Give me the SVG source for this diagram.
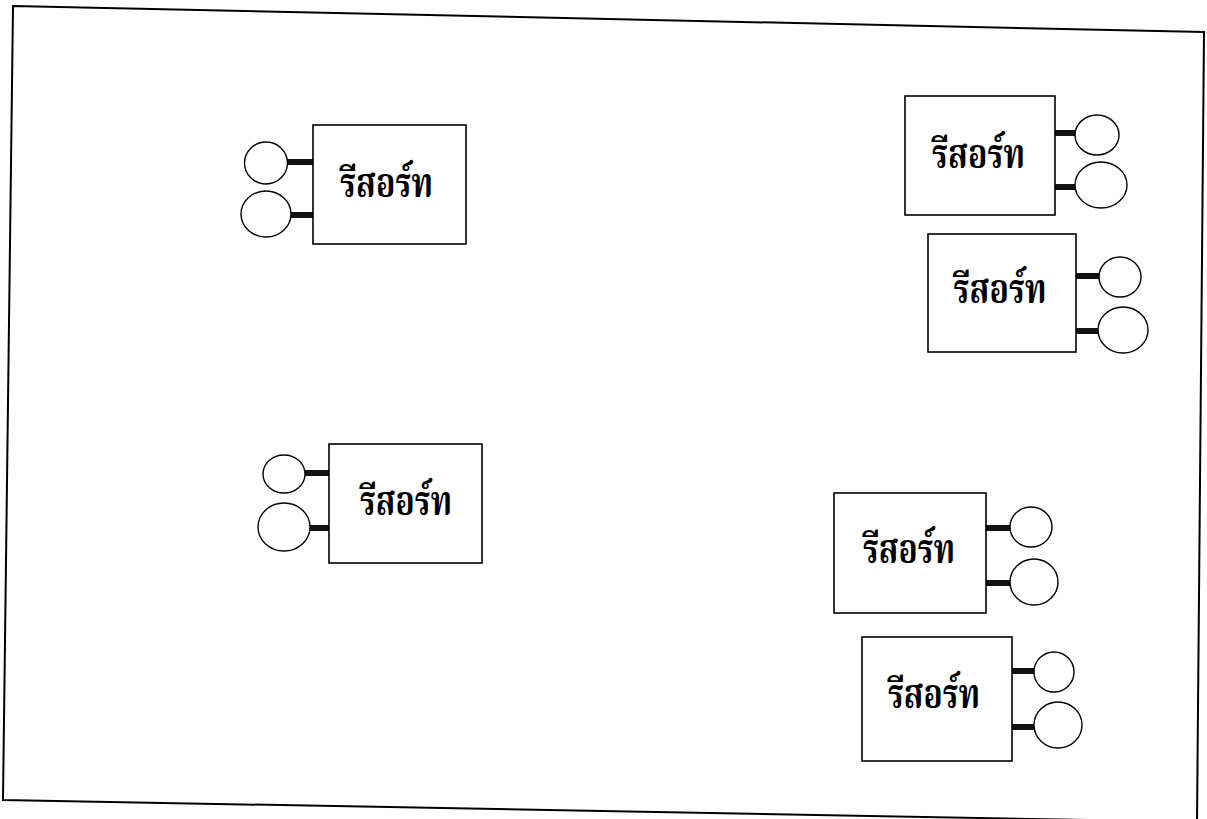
<svg xmlns="http://www.w3.org/2000/svg" width="1207" height="819" viewBox="0 0 1207 819">
<style>
.box{fill:#fff;stroke:#000;stroke-width:1.6}
.port{fill:#fff;stroke:#000;stroke-width:1.4}
.link{stroke:#111;stroke-width:6;fill:none}
.lbl{font-family:"Noto Serif Thai","Noto Sans Thai","Garuda","Loma","Tlwg Typo","DejaVu Sans","Noto Sans",sans-serif;font-size:40px;font-weight:bold;fill:#000;text-anchor:middle}
</style>
<rect width="1207" height="819" fill="#fff"/>
<polygon id="frame" points="13,6 1204,32 1197,822 3,800" fill="none" stroke="#000" stroke-width="2"/>
<g id="connectors">
<line class="link" x1="287" y1="162" x2="313" y2="162"/>
<line class="link" x1="290" y1="215" x2="313" y2="215"/>
<line class="link" x1="1055" y1="133" x2="1076" y2="133"/>
<line class="link" x1="1055" y1="187" x2="1076" y2="187"/>
<line class="link" x1="1076" y1="276" x2="1099" y2="276"/>
<line class="link" x1="1076" y1="331" x2="1098" y2="331"/>
<line class="link" x1="305" y1="473" x2="329" y2="473"/>
<line class="link" x1="309" y1="528" x2="329" y2="528"/>
<line class="link" x1="986" y1="528" x2="1011" y2="528"/>
<line class="link" x1="986" y1="583" x2="1010" y2="583"/>
<line class="link" x1="1012" y1="671" x2="1034" y2="671"/>
<line class="link" x1="1012" y1="727" x2="1034" y2="727"/>
</g>
<g id="resort1">
<rect class="box" x="313" y="125" width="153" height="119"/>
<ellipse class="port" cx="266" cy="163" rx="21.5" ry="21"/>
<ellipse class="port" cx="266" cy="214" rx="25" ry="23"/>
<text class="lbl" x="386.5" y="197" textLength="93" lengthAdjust="spacingAndGlyphs">รีสอร์ท</text>
</g>
<g id="resort2">
<rect class="box" x="905" y="96" width="150" height="119"/>
<ellipse class="port" cx="1097" cy="135" rx="22" ry="20"/>
<ellipse class="port" cx="1101" cy="185" rx="26" ry="23"/>
<text class="lbl" x="978.5" y="168" textLength="93" lengthAdjust="spacingAndGlyphs">รีสอร์ท</text>
</g>
<g id="resort3">
<rect class="box" x="928" y="234" width="148" height="118"/>
<ellipse class="port" cx="1120" cy="277" rx="21" ry="20"/>
<ellipse class="port" cx="1123" cy="330" rx="25" ry="23"/>
<text class="lbl" x="1000" y="303" textLength="93" lengthAdjust="spacingAndGlyphs">รีสอร์ท</text>
</g>
<g id="resort4">
<rect class="box" x="329" y="444" width="153" height="119"/>
<ellipse class="port" cx="284" cy="474" rx="21" ry="19"/>
<ellipse class="port" cx="284" cy="527" rx="26" ry="24"/>
<text class="lbl" x="406" y="515" textLength="92" lengthAdjust="spacingAndGlyphs">รีสอร์ท</text>
</g>
<g id="resort5">
<rect class="box" x="834" y="493" width="152" height="120"/>
<ellipse class="port" cx="1031" cy="527" rx="21" ry="20"/>
<ellipse class="port" cx="1034" cy="582" rx="24" ry="23"/>
<text class="lbl" x="909" y="563" textLength="92" lengthAdjust="spacingAndGlyphs">รีสอร์ท</text>
</g>
<g id="resort6">
<rect class="box" x="862" y="637" width="150" height="124"/>
<ellipse class="port" cx="1054" cy="672" rx="20" ry="20"/>
<ellipse class="port" cx="1058" cy="725" rx="24" ry="23"/>
<text class="lbl" x="934" y="708" textLength="92" lengthAdjust="spacingAndGlyphs">รีสอร์ท</text>
</g>
</svg>
